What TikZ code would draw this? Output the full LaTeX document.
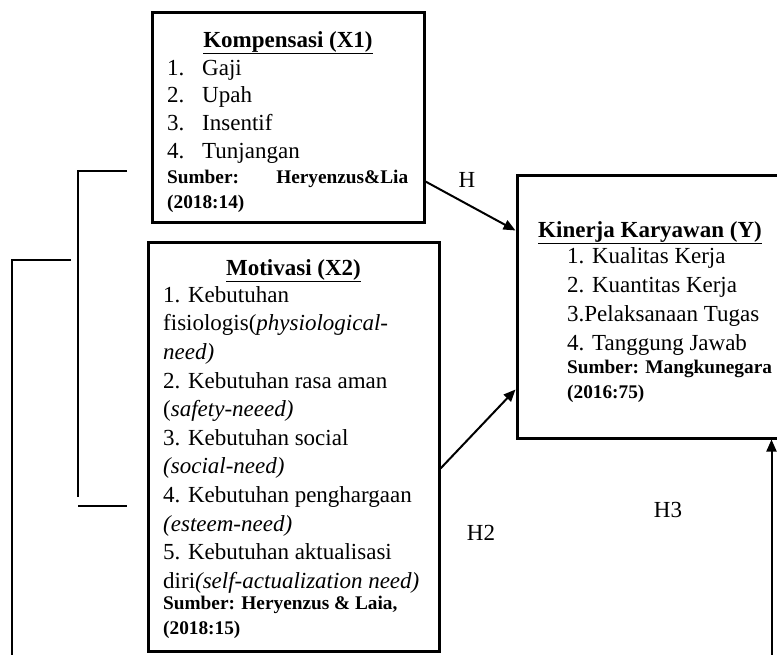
\documentclass[tikz,border=0pt]{standalone}
\usepackage{fontspec}
\setmainfont{Liberation Serif}
\usetikzlibrary{arrows.meta}
\newcommand{\src}[1]{{\fontsize{19.3}{25}\selectfont\bfseries #1}}
\newcommand{\itm}[1]{\makebox[35pt][l]{#1}}

\begin{document}
\begin{tikzpicture}[x=1pt,y=-1pt,>={Triangle[length=12pt,width=10pt]},
  box/.style={draw,line width=3pt,inner sep=0pt},
  blk/.style={anchor=north west,inner sep=0pt,align=left,font=\fontsize{23}{#1}\selectfont},
  ttl/.style={anchor=base,inner sep=0pt,font=\fontsize{23}{28}\selectfont\bfseries},
  lnk/.style={line width=2pt}]
\useasboundingbox (0,0) rectangle (777,654);
\clip (0,0) rectangle (777,654);
% the three boxes
\node[box,minimum width=272pt,minimum height=210pt] (komp) at (288,117) {};
\node[box,minimum width=291pt,minimum height=409pt] (mot) at (293.5,446.5) {};
\node[box,minimum width=266pt,minimum height=263pt] (kin) at (650,306.5) {};
% X1
\node[ttl] (kompT) at (288,47) {\underline{Kompensasi (X1)}};
\node[blk=27.7] (kompL) at (167,58) {\rule{0pt}{17pt}\itm{1.}Gaji\\ \itm{2.}Upah\\ \itm{3.}Insentif\\ \itm{4.}Tunjangan\\[-2.7pt]
  \src{\hbox to 241pt{Sumber:\hfill Heryenzus\&Lia}}\\[-2.7pt] \src{(2018:14)}};
% X2
\node[ttl] (motT) at (293.5,275) {\underline{Motivasi (X2)}};
\node[blk=28.6] (motL) at (163,285) {\rule{0pt}{17pt}1. Kebutuhan\\ fisiologis(\textit{physiological-}\\ \textit{need)}\\
  2. Kebutuhan rasa aman\\ (\textit{safety}-\textit{neeed)}\\ 3. Kebutuhan social\\ \textit{(social-need)}\\
  4. Kebutuhan penghargaan\\ \textit{(esteem-need)}\\ 5. Kebutuhan aktualisasi\\ diri\textit{(self-actualization need)}\\[-7.6pt]
  \src{Sumber: Heryenzus \& Laia,}\\[-3.6pt] \src{(2018:15)}};
% Y
\node[ttl] (kinT) at (650,237) {\underline{Kinerja Karyawan (Y)}};
\node[blk=29] (kinL) at (567,246) {\rule{0pt}{17pt}1. Kualitas Kerja\\ 2. Kuantitas Kerja\\ 3.Pelaksanaan Tugas\\ 4. Tanggung Jawab\\[-6pt]
  \src{Sumber: Mangkunegara}\\[-4pt] \src{(2016:75)}};
% hypotheses
\node[ttl,font=\fontsize{23}{28}\selectfont] (h1) at (467,187) {H};
\node[ttl,font=\fontsize{23}{28}\selectfont] (h2) at (481,540) {H2};
\node[ttl,font=\fontsize{23}{28}\selectfont] (h3) at (668,517) {H3};
\draw[lnk,->] ([yshift=42pt]komp.south east) -- ([yshift=-57pt]kin.north west);
\draw[lnk,->] ([yshift=184pt]mot.south east) -- ([yshift=50pt]kin.south west);
% brackets on the left
\coordinate (b1) at (127,171);
\coordinate (b2) at (127,506);
\coordinate (o1) at (71,260);
\draw[lnk] (b1) -- (78,171) -- (78,497);
\draw[lnk] (78,506) -- (b2);
\draw[lnk,->] (o1) -- (12,260) -- (12,680) -| ([xshift=-13pt]kin.south east);
\end{tikzpicture}
\end{document}
